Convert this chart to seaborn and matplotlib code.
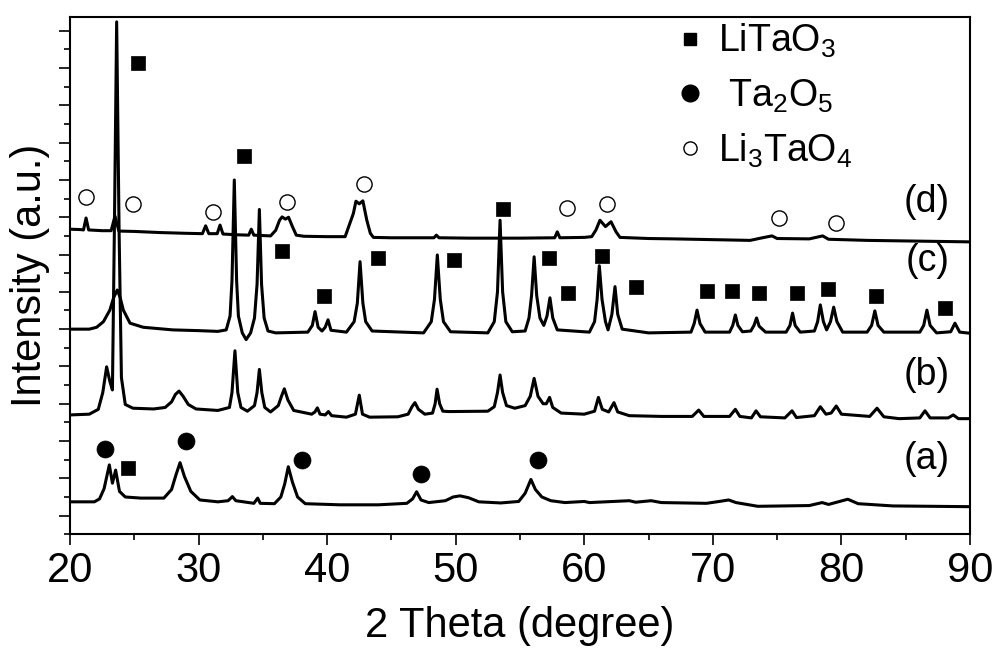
import numpy as np
import pandas as pd
import matplotlib
matplotlib.use("Agg")
import matplotlib.pyplot as plt
from matplotlib.lines import Line2D
from matplotlib.ticker import MultipleLocator, NullFormatter
import seaborn as sns

# ---------------- data (2 theta in degree, intensity in a.u. with offsets) -------------
d_x = [20.0, 20.8, 21.05, 21.25, 21.45, 22.5, 23.2, 23.5, 23.8, 25.0, 27.0, 29.0, 30.3, 30.55,
       30.8, 31.45, 31.67, 31.9, 33.0, 33.9, 34.1, 34.3, 35.6, 36.0, 36.3, 36.5, 36.75, 37.0,
       37.3, 37.6, 38.2, 40.0, 41.4, 42.04, 42.24, 42.5, 42.78, 43.08, 43.36, 43.6, 45.0, 48.3,
       48.5, 48.7, 51.0, 53.0, 55.0, 57.7, 57.9, 58.1, 60.0, 60.58, 60.91, 61.22, 61.65, 62.08,
       62.47, 62.78, 65.0, 67.0, 72.9, 74.0, 74.6, 75.0, 77.5, 78.54, 79.0, 82.0, 86.0, 90.0]
d_y = [7.68, 7.67, 7.66, 7.98, 7.66, 7.64, 7.64, 8.03, 7.63, 7.62, 7.59, 7.57, 7.56, 7.77,
       7.56, 7.56, 7.79, 7.55, 7.53, 7.52, 7.68, 7.52, 7.50, 7.65, 7.92, 8.01, 7.95, 8.00,
       7.75, 7.52, 7.49, 7.48, 7.48, 8.10, 8.43, 8.36, 8.44, 7.93, 7.57, 7.46, 7.45, 7.45,
       7.52, 7.45, 7.44, 7.44, 7.44, 7.45, 7.61, 7.45, 7.46, 7.48, 7.66, 7.92, 7.75, 7.88,
       7.61, 7.46, 7.43, 7.42, 7.38, 7.46, 7.50, 7.43, 7.42, 7.50, 7.41, 7.38, 7.36, 7.34]

c_x = [20.0, 21.5, 22.07, 22.6, 23.1, 23.4, 23.68, 23.9, 24.15, 24.67, 25.7, 28.0, 30.0, 31.5,
       32.15, 32.45, 32.6, 32.78, 32.96, 33.1, 33.4, 33.7, 34.05, 34.35, 34.55, 34.73, 34.9,
       35.1, 35.4, 36.0, 38.5, 38.85, 39.06, 39.3, 39.6, 39.85, 40.07, 40.3, 41.5, 42.1, 42.35,
       42.56, 42.78, 43.0, 43.5, 47.5, 48.1, 48.35, 48.57, 48.8, 49.05, 49.6, 52.5, 53.0, 53.25,
       53.45, 53.65, 53.9, 54.4, 55.4, 55.7, 55.9, 56.1, 56.3, 56.55, 56.85, 57.1, 57.33, 57.55,
       57.9, 60.4, 60.8, 61.0, 61.17, 61.38, 61.65, 61.85, 62.15, 62.39, 62.6, 62.95, 65.0,
       68.3, 68.55, 68.77, 69.0, 69.4, 71.3, 71.55, 71.75, 71.95, 72.3, 72.95, 73.2, 73.4,
       73.6, 74.1, 75.7, 76.0, 76.2, 76.4, 76.8, 77.9, 78.15, 78.36, 78.6, 78.85, 79.15, 79.4,
       79.65, 80.1, 82.0, 82.35, 82.6, 82.85, 83.3, 86.1, 86.4, 86.65, 86.9, 87.4, 88.5, 88.83,
       89.2, 90.0]
c_y = [5.00, 5.00, 5.05, 5.20, 5.51, 5.85, 6.05, 5.85, 5.51, 5.16, 5.05, 4.98, 4.96, 4.94,
       4.98, 5.35, 6.30, 9.00, 6.30, 5.35, 4.90, 4.72, 4.90, 5.30, 6.20, 8.21, 6.20,
       5.30, 4.95, 4.90, 4.92, 5.10, 5.47, 5.05, 4.95, 5.05, 5.25, 4.97, 4.92, 5.20, 5.70,
       6.81, 5.70, 5.20, 4.95, 4.90, 5.20, 5.80, 6.99, 5.80, 5.20, 4.93, 4.90, 5.20, 6.00,
       7.92, 6.00, 5.20, 4.93, 4.95, 5.30, 5.90, 6.94, 5.90, 5.30, 5.10, 5.35, 5.84, 5.30,
       4.98, 4.92, 5.20, 5.80, 6.70, 5.80, 5.20, 4.98, 5.40, 6.14, 5.40, 5.00, 4.90,
       4.92, 5.15, 5.51, 5.15, 4.92, 4.92, 5.10, 5.38, 5.10, 4.93, 4.95, 5.10, 5.30,
       5.08, 4.92, 4.92, 5.10, 5.43, 5.10, 4.92, 4.95, 5.20, 5.65, 5.20, 4.98, 5.20, 5.59,
       5.20, 4.92, 4.92, 5.10, 5.49, 5.10, 4.92, 4.92, 5.10, 5.51, 5.10, 4.90, 4.93, 5.16,
       4.92, 4.89]

b_x = [20.0, 21.5, 22.2, 22.55, 22.85, 23.1, 23.3, 23.45, 23.63, 23.82, 24.0, 24.3, 24.9, 26.5,
       27.4, 27.9, 28.2, 28.48, 28.8, 29.2, 29.8, 31.5, 32.4, 32.6, 32.83, 33.05, 33.3, 33.8,
       34.35, 34.55, 34.73, 34.92, 35.15, 35.6, 36.2, 36.45, 36.67, 36.95, 37.4, 38.8, 39.05,
       39.24, 39.45, 39.85, 40.1, 40.35, 41.5, 42.2, 42.5, 42.75, 43.3, 45.5, 46.3, 46.6, 46.83,
       47.1, 47.6, 48.2, 48.4, 48.55, 48.75, 49.0, 49.5, 52.5, 53.0, 53.25, 53.45, 53.65, 53.95,
       54.6, 55.4, 55.8, 56.1, 56.4, 56.8, 57.05, 57.3, 57.55, 58.2, 60.0, 60.8, 61.1, 61.4,
       61.9, 62.31, 62.6, 63.5, 66.0, 68.4, 68.9, 69.3, 71.3, 71.75, 72.1, 73.0, 73.36, 73.7,
       75.6, 76.16, 76.5, 77.9, 78.36, 78.8, 79.2, 79.6, 80.0, 82.2, 82.77, 83.3, 84.5, 86.1,
       86.5, 86.9, 88.3, 88.7, 89.1, 90.0]
b_y = [2.70, 2.72, 2.85, 3.30, 3.99, 3.60, 3.37, 7.60, 13.24, 7.60, 3.70, 2.98, 2.88, 2.86,
       2.90, 3.05, 3.25, 3.34, 3.20, 2.98, 2.86, 2.82, 2.90, 3.30, 4.42, 3.30, 2.90, 2.80,
       2.95, 3.30, 3.92, 3.30, 2.90, 2.78, 2.95, 3.20, 3.40, 3.10, 2.82, 2.72, 2.78,
       2.89, 2.72, 2.70, 2.79, 2.68, 2.64, 2.72, 3.23, 2.72, 2.64, 2.65, 2.72, 2.92, 3.03,
       2.85, 2.72, 2.75, 3.00, 3.39, 3.00, 2.80, 2.79, 2.80, 2.92, 3.30, 3.77, 3.30, 2.95,
       2.88, 2.95, 3.20, 3.68, 3.20, 3.00, 3.00, 3.17, 2.90, 2.75, 2.72, 2.80, 3.17, 2.85,
       2.78, 3.03, 2.78, 2.68, 2.66, 2.66, 2.83, 2.66, 2.66, 2.85, 2.66, 2.62, 2.81, 2.65,
       2.62, 2.81, 2.63, 2.68, 2.92, 2.72, 2.75, 2.94, 2.72, 2.66, 2.88, 2.65, 2.60, 2.62,
       2.81, 2.62, 2.62, 2.70, 2.60, 2.60]

a_x = [20.0, 21.9, 22.3, 22.65, 23.06, 23.3, 23.55, 23.85, 24.3, 25.5, 27.3, 27.9, 28.25, 28.56,
       28.9, 29.4, 30.1, 31.5, 32.3, 32.63, 32.9, 34.3, 34.6, 34.8, 35.9, 36.4, 36.7, 36.98,
       37.3, 37.7, 38.3, 41.0, 44.0, 46.2, 46.65, 46.96, 47.3, 47.9, 49.2, 49.8, 50.33, 51.0,
       51.8, 53.5, 54.9, 55.4, 55.85, 56.2, 56.7, 57.4, 58.5, 60.0, 60.4, 63.5, 64.0, 65.2,
       66.0, 69.5, 70.5, 71.23, 71.8, 73.5, 77.5, 78.5, 79.0, 80.5, 81.3, 84.0, 90.0]
a_y = [0.37, 0.37, 0.45, 0.72, 1.36, 0.87, 1.22, 0.65, 0.50, 0.47, 0.47, 0.70, 1.10, 1.42,
       1.05, 0.65, 0.42, 0.37, 0.40, 0.51, 0.40, 0.33, 0.47, 0.33, 0.32, 0.50, 0.85, 1.31,
       0.90, 0.50, 0.32, 0.29, 0.29, 0.33, 0.45, 0.64, 0.42, 0.35, 0.40, 0.50, 0.53, 0.48,
       0.37, 0.34, 0.38, 0.60, 0.97, 0.70, 0.50, 0.40, 0.35, 0.38, 0.35, 0.40, 0.36, 0.40,
       0.35, 0.33, 0.38, 0.42, 0.35, 0.25, 0.27, 0.35, 0.30, 0.44, 0.32, 0.26, 0.24]

# phase markers
litao3_x = [25.26, 33.53, 36.49, 39.76, 43.93, 49.87, 53.65, 57.28, 58.76, 61.40, 64.02,
            69.54, 71.49, 73.61, 76.55, 78.93, 82.71, 88.08, 24.54]
litao3_y = [12.14, 9.64, 7.10, 5.90, 6.92, 6.85, 8.21, 6.92, 5.96, 6.96, 6.12,
            6.01, 6.01, 5.96, 5.96, 6.07, 5.89, 5.56, 1.29]
ta2o5_x = [22.72, 29.00, 38.07, 47.30, 56.38]
ta2o5_y = [1.78, 2.00, 1.49, 1.11, 1.49]
li3tao4_x = [21.24, 24.92, 31.15, 36.85, 42.89, 58.63, 61.79, 75.17, 79.58]
li3tao4_y = [8.55, 8.36, 8.15, 8.40, 8.89, 8.24, 8.36, 7.97, 7.85]

sample_labels = ["(a)", "(b)", "(c)", "(d)"]
sample_label_y = [1.52, 3.77, 6.83, 8.42]
legend_labels = ["LiTaO$_3$", " Ta$_2$O$_5$", "Li$_3$TaO$_4$"]

# ---------------- styling -------------
sns.set_theme(style="ticks")
plt.rcParams["font.family"] = ["Liberation Sans", "DejaVu Sans"]
plt.rcParams["mathtext.fontset"] = "custom"
plt.rcParams["mathtext.rm"] = "Liberation Sans"
plt.rcParams["mathtext.it"] = "Liberation Sans:italic"
plt.rcParams["mathtext.default"] = "regular"
for key in ["text.color", "axes.labelcolor", "xtick.color", "ytick.color", "axes.edgecolor"]:
    plt.rcParams[key] = "black"

fig = plt.figure(figsize=(9.97, 6.48), dpi=100)
ax = fig.add_axes([0.0702, 0.1755, 0.9027, 0.7983])

for xs, ys in [(a_x, a_y), (b_x, b_y), (c_x, c_y), (d_x, d_y)]:
    df = pd.DataFrame({"x": xs, "y": ys})
    sns.lineplot(data=df, x="x", y="y", ax=ax, color="black", lw=2.2,
                 sort=False, estimator=None)

sns.scatterplot(x=litao3_x, y=litao3_y, ax=ax, marker="s", s=100, color="black",
                edgecolor="black", linewidth=0.5, zorder=5)
sns.scatterplot(x=ta2o5_x, y=ta2o5_y, ax=ax, marker="o", s=150, color="black",
                edgecolor="black", linewidth=0.5, zorder=5)
sns.scatterplot(x=li3tao4_x, y=li3tao4_y, ax=ax, marker="o", s=120, facecolor="white",
                edgecolor="black", linewidth=1.0, zorder=5)

for lab, yy in zip(sample_labels, sample_label_y):
    ax.text(88.45, yy, lab, fontsize=27, ha="right", va="center")

ax.set_xlim(20, 90)
ax.set_ylim(-0.5, 13.37)
ax.xaxis.set_major_locator(MultipleLocator(10))
ax.xaxis.set_minor_locator(MultipleLocator(5))
ax.yaxis.set_major_locator(MultipleLocator(1))
ax.yaxis.set_minor_locator(MultipleLocator(0.5))
ax.yaxis.set_major_formatter(NullFormatter())
ax.tick_params(axis="both", which="major", length=8, width=1.2, direction="out", color="black")
ax.tick_params(axis="both", which="minor", length=4.5, width=1.2, direction="out", color="black")
ax.tick_params(axis="x", labelsize=30, pad=4, labelcolor="black")
for sp in ax.spines.values():
    sp.set_visible(True)
    sp.set_linewidth(1.5)
    sp.set_color("black")

ax.set_xlabel("2 Theta (degree)", fontsize=30, labelpad=11, color="black")
ax.set_ylabel("Intensity (a.u.)", fontsize=30, labelpad=3, color="black")

handles = [
    Line2D([], [], marker="s", ls="none", color="black", markersize=8),
    Line2D([], [], marker="o", ls="none", color="black", markersize=12),
    Line2D([], [], marker="o", ls="none", markerfacecolor="white", markeredgecolor="black",
           markeredgewidth=1.0, markersize=9.5),
]
leg = ax.legend(handles, legend_labels, loc="upper left", bbox_to_anchor=(0.672, 0.99),
                frameon=False, fontsize=27, handlelength=0.8, handletextpad=0.35,
                labelspacing=0.45, borderpad=0, borderaxespad=0)
for t in leg.get_texts():
    t.set_color("black")

fig.savefig("out.png", dpi=100)
